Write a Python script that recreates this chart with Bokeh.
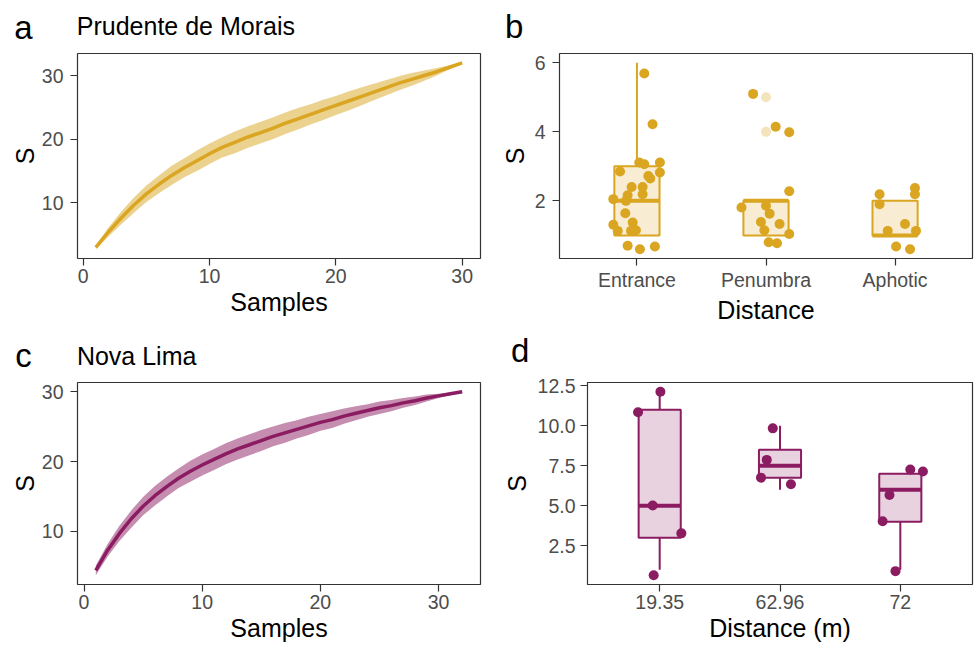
from bokeh.plotting import figure
from bokeh.models import Range1d, FixedTicker, Label, PrintfTickFormatter
from bokeh.layouts import row, column
from bokeh.embed import file_html
from bokeh.resources import INLINE

FONT = "Liberation Sans"
GOLD = "#DAA520"
MAROON = "#8B1C62"

# ---------------- Panel a: Prudente de Morais rarefaction ----------------
samples_a = [1, 2, 3, 4, 5, 6, 7, 8, 9, 10, 11, 12, 13, 14, 15,
             16, 17, 18, 19, 20, 21, 22, 23, 24, 25, 26, 27, 28, 29, 30]
s_a = [3.0, 5.4, 7.6, 9.6, 11.4, 12.9, 14.3, 15.5, 16.6, 17.7, 18.7, 19.5, 20.3, 21.0, 21.7,
       22.5, 23.2, 23.9, 24.6, 25.3, 26.0, 26.7, 27.4, 28.1, 28.8, 29.4, 30.0, 30.6, 31.3, 32.0]
s_a_lo = [2.7, 4.7, 6.6, 8.4, 10.1, 11.5, 12.8, 14.0, 15.0, 16.1, 17.1, 17.8, 18.6, 19.3, 20.0,
          20.8, 21.5, 22.3, 23.0, 23.8, 24.5, 25.3, 26.1, 26.9, 27.7, 28.4, 29.2, 30.0, 31.0, 32.0]
s_a_hi = [3.3, 6.1, 8.6, 10.8, 12.7, 14.3, 15.8, 17.0, 18.2, 19.3, 20.3, 21.2, 22.0, 22.7, 23.4,
          24.2, 24.9, 25.5, 26.2, 26.8, 27.5, 28.1, 28.7, 29.3, 29.9, 30.4, 30.8, 31.2, 31.6, 32.0]

# ---------------- Panel c: Nova Lima rarefaction ----------------
samples_c = [1, 2, 3, 4, 5, 6, 7, 8, 9, 10, 11, 12, 13, 14, 15, 16,
             17, 18, 19, 20, 21, 22, 23, 24, 25, 26, 27, 28, 29, 30, 31, 32]
s_c = [4.4, 7.3, 9.7, 11.8, 13.6, 15.1, 16.4, 17.6, 18.6, 19.5, 20.3, 21.1, 21.8, 22.4, 23.0, 23.6,
       24.1, 24.6, 25.1, 25.6, 26.0, 26.5, 26.9, 27.3, 27.7, 28.0, 28.4, 28.7, 29.1, 29.4, 29.7, 30.0]
s_c_lo = [3.7, 6.4, 8.6, 10.5, 12.3, 13.7, 15.0, 16.2, 17.1, 18.0, 18.8, 19.6, 20.3, 20.9, 21.5, 22.2,
          22.7, 23.3, 23.8, 24.4, 24.8, 25.4, 25.9, 26.4, 26.8, 27.2, 27.7, 28.1, 28.6, 29.1, 29.5, 30.0]
s_c_hi = [5.1, 8.2, 10.8, 13.0, 14.9, 16.5, 17.8, 19.0, 20.1, 21.0, 21.8, 22.6, 23.3, 23.9, 24.5, 25.0,
          25.5, 25.9, 26.4, 26.8, 27.2, 27.6, 27.9, 28.2, 28.6, 28.8, 29.1, 29.3, 29.6, 29.7, 29.9, 30.0]

# ---------------- Panel b: S by zone ----------------
zones = ["Entrance", "Penumbra", "Aphotic"]
zone_pos = [1, 2, 3]
b_whisk_lo = [1, 1, 1]
b_q1 = [1, 1, 1]
b_median = [2, 2, 1]
b_q3 = [3, 2, 2]
b_whisk_hi = [6, 2, 2]
b_outlier_zone = [2, 2]
b_outlier_s = [5, 4]
b_pt_zone = [1, 1, 1, 1, 1, 1, 1, 1, 1, 1, 1, 1, 1, 1, 1, 1, 1, 1, 1, 1, 1, 1, 1, 1,
             2, 2, 2, 2, 2, 2, 2, 2, 2, 2, 2, 2, 2,
             3, 3, 3, 3, 3, 3, 3, 3, 3]
b_pt_jitter = [0.057, 0.121, 0.018, 0.057, 0.178, 0.178, -0.131, 0.088, 0.103, -0.041, 0.044, 0.044,
               -0.072, -0.085, -0.183, -0.090, -0.033, -0.183, -0.149, -0.046, -0.008, -0.072, 0.023, 0.139,
               -0.100, 0.075, 0.180, 0.180, -0.190, 0.000, 0.028, -0.039, 0.105, -0.013, 0.180, 0.021, 0.085,
               -0.120, -0.120, 0.154, 0.154, 0.077, -0.057, 0.162, 0.008, 0.116]
b_pt_s = [5.69, 4.22, 3.11, 3.06, 3.11, 2.82, 2.85, 2.72, 2.65, 2.40, 2.40, 2.19,
          2.16, 2.00, 2.05, 1.64, 1.37, 1.31, 1.13, 1.13, 1.15, 0.70, 0.60, 0.68,
          5.10, 4.15, 3.99, 2.28, 1.81, 1.86, 1.63, 1.39, 1.33, 1.15, 1.04, 0.80, 0.77,
          2.19, 1.90, 2.37, 2.19, 1.33, 1.13, 1.13, 0.68, 0.60]

# ---------------- Panel d: S by distance ----------------
distances = ["19.35", "62.96", "72"]
dist_pos = [1, 2, 3]
d_whisk_lo = [1, 6, 1]
d_q1 = [3, 6.75, 4]
d_median = [5, 7.5, 6]
d_q3 = [11, 8.5, 7]
d_whisk_hi = [12, 10, 7]
d_pt_dist = [1, 1, 1, 1, 1, 2, 2, 2, 2, 3, 3, 3, 3, 3]
d_pt_jitter = [0.006, -0.180, -0.058, 0.180, -0.050,
               -0.060, -0.110, -0.158, 0.091,
               0.083, 0.188, -0.090, -0.147, -0.040]
d_pt_s = [12.13, 10.84, 5.02, 3.28, 0.66,
          9.84, 7.87, 6.76, 6.35,
          7.27, 7.15, 5.68, 4.04, 0.92]

# panel letters and titles
panel_letters = ["a", "b", "c", "d"]
panel_titles = ["Prudente de Morais", "Nova Lima"]


def padded(lo, hi, f=0.05):
    span = hi - lo
    return Range1d(lo - f * span, hi + f * span)


def make_fig(w, h, xr, yr, bl, br, bt, bb, ylab_standoff, ytick_standoff):
    p = figure(width=w, height=h, x_range=xr, y_range=yr,
               output_backend="svg", toolbar_location=None,
               min_border_left=bl, min_border_right=br,
               min_border_top=bt, min_border_bottom=bb)
    p.grid.visible = False
    p.background_fill_color = "white"
    p.border_fill_color = "white"
    p.outline_line_color = "#333333"
    p.outline_line_width = 1.2
    for ax in p.axis:
        ax.axis_line_color = None
        ax.major_tick_line_color = "#333333"
        ax.major_tick_line_width = 1.2
        ax.major_tick_out = 7
        ax.major_tick_in = 0
        ax.minor_tick_line_color = None
        ax.major_label_text_font = FONT
        ax.major_label_text_font_size = "19.5px"
        ax.major_label_text_color = "#4D4D4D"
        ax.axis_label_text_font = FONT
        ax.axis_label_text_font_size = "25px"
        ax.axis_label_text_font_style = "normal"
        ax.axis_label_text_color = "black"
    p.xaxis.major_label_standoff = 3
    p.xaxis.axis_label_standoff = 2
    p.yaxis.major_label_standoff = ytick_standoff
    p.yaxis.axis_label_standoff = ylab_standoff
    return p


def header(h, top):
    p = figure(width=975, height=h, x_range=Range1d(0, 975), y_range=Range1d(top + h, top),
               x_axis_type=None, y_axis_type=None, output_backend="svg",
               toolbar_location=None, min_border=0)
    p.outline_line_color = None
    p.background_fill_color = "white"
    p.border_fill_color = "white"
    return p


def add_text(p, txt, x, y_mid, size):
    p.add_layout(Label(x=x, y=y_mid, text=txt, text_font=FONT, text_font_size=size,
                       text_color="black", text_align="left", text_baseline="middle"))


def rare_panel(p, xs, ys, lo, hi, color):
    p.varea(x=xs, y1=lo, y2=hi, fill_color=color, fill_alpha=0.5)
    p.line(x=xs, y=ys, line_color=color, line_width=3.5)


def box_panel(p, pos, wlo, q1, med, q3, whi, color, width=0.35):
    left = [c - width / 2 for c in pos]
    right = [c + width / 2 for c in pos]
    p.segment(x0=pos, y0=q3, x1=pos, y1=whi, line_color=color, line_width=2)
    p.segment(x0=pos, y0=wlo, x1=pos, y1=q1, line_color=color, line_width=2)
    p.quad(left=left, right=right, bottom=q1, top=q3, fill_color=color, fill_alpha=0.2,
           line_color=color, line_width=2)
    p.segment(x0=left, y0=med, x1=right, y1=med, line_color=color, line_width=4)


# ---------- headers (text centres in page pixels) ----------
h1 = header(45, 0)
add_text(h1, panel_letters[0], 13.8, 26.6, "33px")
add_text(h1, panel_titles[0], 76.3, 25.6, "25px")
add_text(h1, panel_letters[1], 504.5, 25.9, "33px")

h2 = header(46, 330)
add_text(h2, panel_letters[2], 14.7, 355.3, "33px")
add_text(h2, panel_titles[1], 76.4, 355.3, "25px")
add_text(h2, panel_letters[3], 510.6, 350.3, "33px")

# ---------- Panel a ----------
pa = make_fig(490, 285, padded(min(samples_a), max(samples_a)), padded(min(s_a_lo), max(s_a_hi)),
              77, 10, 8, 72, 0, 7)
rare_panel(pa, samples_a, s_a, s_a_lo, s_a_hi, GOLD)
pa.xaxis.ticker = FixedTicker(ticks=[0, 10, 20, 30])
pa.yaxis.ticker = FixedTicker(ticks=[10, 20, 30])
pa.xaxis.axis_label = "Samples"
pa.yaxis.axis_label = "S"

# ---------- Panel b ----------
b_all = b_pt_s + b_whisk_hi + b_whisk_lo
pb = make_fig(485, 285, Range1d(0.4, 3.6), padded(min(b_all), max(b_all)),
              69, 3, 8, 72, 3, 7)
box_panel(pb, zone_pos, b_whisk_lo, b_q1, b_median, b_q3, b_whisk_hi, GOLD)
pb.scatter(x=b_outlier_zone, y=b_outlier_s, size=10, fill_color=GOLD, fill_alpha=0.3, line_color=None)
pb.scatter(x=[z + j for z, j in zip(b_pt_zone, b_pt_jitter)], y=b_pt_s, size=10,
           fill_color=GOLD, line_color=None)
pb.xaxis.ticker = FixedTicker(ticks=zone_pos)
pb.xaxis.major_label_overrides = {p: z for p, z in zip(zone_pos, zones)}
pb.yaxis.ticker = FixedTicker(ticks=[2, 4, 6])
pb.xaxis.axis_label = "Distance"
pb.yaxis.axis_label = "S"

# ---------- Panel c ----------
pc = make_fig(490, 271, padded(min(samples_c), max(samples_c)), padded(min(s_c_lo), max(s_c_hi)),
              77, 10, 6, 63, 0, 7)
rare_panel(pc, samples_c, s_c, s_c_lo, s_c_hi, MAROON)
pc.xaxis.ticker = FixedTicker(ticks=[0, 10, 20, 30])
pc.yaxis.ticker = FixedTicker(ticks=[10, 20, 30])
pc.xaxis.axis_label = "Samples"
pc.yaxis.axis_label = "S"

# ---------- Panel d ----------
d_all = d_pt_s + d_whisk_hi + d_whisk_lo
pd_ = make_fig(485, 271, Range1d(0.4, 3.6), padded(min(d_all), max(d_all)),
               97, 3, 6, 63, 4, 5)
box_panel(pd_, dist_pos, d_whisk_lo, d_q1, d_median, d_q3, d_whisk_hi, MAROON)
pd_.scatter(x=[z + j for z, j in zip(d_pt_dist, d_pt_jitter)], y=d_pt_s, size=10,
            fill_color=MAROON, line_color=None)
pd_.xaxis.ticker = FixedTicker(ticks=dist_pos)
pd_.xaxis.major_label_overrides = {p: d for p, d in zip(dist_pos, distances)}
pd_.yaxis.ticker = FixedTicker(ticks=[2.5, 5, 7.5, 10, 12.5])
pd_.yaxis.formatter = PrintfTickFormatter(format="%.1f")
pd_.xaxis.axis_label = "Distance (m)"
pd_.yaxis.axis_label = "S"

layout = column(h1, row(pa, pb), h2, row(pc, pd_))
open("out.html", "w").write(file_html(layout, INLINE))
